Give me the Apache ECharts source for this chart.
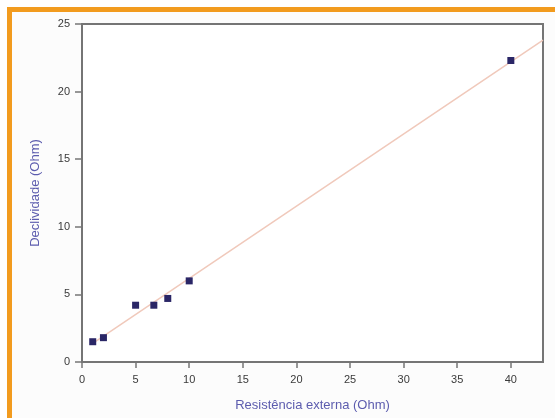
<!DOCTYPE html>
<html>
<head>
<meta charset="utf-8">
<script src="https://cdn.jsdelivr.net/npm/echarts@6/dist/echarts.min.js"></script>
<style>
  html, body { margin: 0; padding: 0; background: #ffffff; }
  #frame {
    position: absolute; left: 7px; top: 7px; width: 560px; height: 420px;
    border-top: 5px solid #f29b1e; border-left: 5px solid #f29b1e;
    background: #fcfcfc;
  }
  #chart1 { position: absolute; left: 0; top: 0; width: 555px; height: 418px; }
</style>
</head>
<body>
<div id="frame"></div>
<div id="chart1"></div>
<script>
// pontos medidos (resistencia externa, declividade)
var resistencia = [1, 2, 5, 6.7, 8, 10, 40];
var declividade = [1.5, 1.8, 4.2, 4.2, 4.7, 6.0, 22.3];
// reta ajustada, extremos
var retaX = [1, 43];
var retaY = [1.37, 23.8];
var xTicks = [0, 5, 10, 15, 20, 25, 30, 35, 40];
var yTicks = [0, 5, 10, 15, 20, 25];

var pontos = [];
for (var i = 0; i < resistencia.length; i++) {
    pontos.push([resistencia[i], declividade[i]]);
}
var reta = [];
for (var j = 0; j < retaX.length; j++) {
    reta.push([retaX[j], retaY[j]]);
}

var mychart = echarts.init(document.getElementById('chart1'));

var eixoCor = '#757575';
var option = {
    animation: false,
    grid: {
        left: 82, top: 24, right: 12, bottom: 56,
        show: true, borderColor: eixoCor, borderWidth: 2, backgroundColor: '#ffffff'
    },
    xAxis: {
        type: 'value',
        min: 0, max: 43,
        name: 'Resistência externa (Ohm)',
        nameLocation: 'middle',
        nameGap: 37,
        nameTextStyle: { color: '#5c5cae', fontSize: 13, fontFamily: 'Liberation Sans' },
        axisLine: { show: true, onZero: false, lineStyle: { color: eixoCor, width: 2 } },
        axisTick: { show: true, length: 6, customValues: xTicks, lineStyle: { color: eixoCor, width: 1.5 } },
        axisLabel: { customValues: xTicks, margin: 12, color: '#3a3a3a', fontSize: 11, fontFamily: 'Liberation Sans' },
        splitLine: { show: false }
    },
    yAxis: {
        type: 'value',
        min: 0, max: 25,
        name: 'Declividade (Ohm)',
        nameLocation: 'middle',
        nameGap: 40,
        nameTextStyle: { color: '#5c5cae', fontSize: 13, fontFamily: 'Liberation Sans' },
        axisLine: { show: true, onZero: false, lineStyle: { color: eixoCor, width: 2 } },
        axisTick: { show: true, length: 7, customValues: yTicks, lineStyle: { color: eixoCor, width: 1.5 } },
        axisLabel: { customValues: yTicks, margin: 12, color: '#3a3a3a', fontSize: 11, fontFamily: 'Liberation Sans' },
        splitLine: { show: false }
    },
    series: [{
        name: 'ajuste',
        type: 'line',
        data: reta,
        symbol: 'none',
        lineStyle: { color: '#f0c9bb', width: 1.5 },
        z: 1
    }, {
        name: 'medidas',
        type: 'scatter',
        data: pontos,
        symbol: 'rect',
        symbolSize: 7,
        itemStyle: { color: '#2a2666', opacity: 1 },
        z: 2
    }]
};

mychart.setOption(option);
</script>
</body>
</html>
